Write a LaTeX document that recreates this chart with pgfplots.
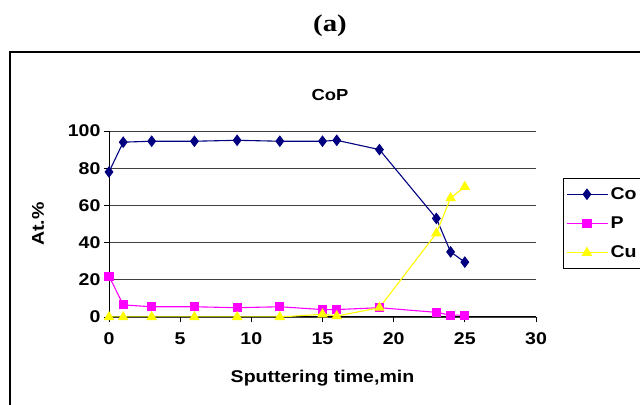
\documentclass[border=0pt]{standalone}
\usepackage{fontspec}
\setmainfont{Liberation Sans}[FakeStretch=1.15]
\newfontfamily\serifb{Liberation Serif}[FakeStretch=1.2]
\usepackage{pgfplots}
\pgfplotsset{compat=1.18}
\definecolor{conavy}{RGB}{0,0,128}
\definecolor{pmag}{RGB}{255,0,255}
\definecolor{cuyel}{RGB}{255,255,0}
\newcommand{\lbl}{\bfseries\fontsize{17bp}{19bp}\selectfont}

\begin{document}
\begin{tikzpicture}
\path[use as bounding box, clip] (0bp,0bp) rectangle (640bp,405bp);
\node[font=\serifb\bfseries\fontsize{24bp}{27bp}\selectfont] at (330bp,379bp) {(a)};
\draw[line width=1.3bp] (10bp,353bp) rectangle (660bp,-20bp);
\node[font=\bfseries\fontsize{16bp}{18bp}\selectfont] at (330bp,310bp) {CoP};
\begin{axis}[
    at={(109bp,88bp)}, anchor=south west,
    scale only axis, width=427bp, height=186bp,
    xmin=0, xmax=30, ymin=0, ymax=100,
    xtick={0,5,...,30}, ytick={0,20,...,100},
    ymajorgrids, grid style={black!75, line width=0.9bp},
    axis x line*=bottom, axis y line*=left,
    axis line style={-, line width=1bp, black},
    tick align=outside, major tick length=5bp,
    tick style={black, line width=0.9bp},
    ticklabel style={font=\lbl},
    xticklabel style={yshift=-7bp},
    /pgf/number format/assume math mode=true,
    xlabel={Sputtering time,min}, ylabel={At.\%},
    label style={font=\lbl},
    xlabel style={at={(axis description cs:0.5,-0.328)}, anchor=center},
    ylabel style={at={(axis description cs:-0.166,0.5)}, anchor=center},
    legend style={at={(rel axis cs:1.063,0.747)}, anchor=north west,
        draw=black, line width=1bp, font=\lbl,
        row sep=12bp, inner ysep=7bp, inner xsep=3bp},
    legend cell align=left,
    legend image code/.code={\draw[mark repeat=2,mark phase=2,#1] plot coordinates {(0bp,0bp) (20bp,0bp) (41bp,0bp)};},
]
\addplot[color=conavy, line width=1.1bp, mark=diamond*, mark size=5bp, mark options={solid}] coordinates {
    (0,78) (1,94) (3,94.5) (6,94.5) (9,95) (12,94.5) (15,94.5) (16,95) (19,90) (23,53) (24,35) (25,29.5)
};
\addlegendentry{Co}
\addplot[color=pmag, line width=1.1bp, mark=square*, mark size=4bp] coordinates {
    (0,22) (1,6.5) (3,5.5) (6,5.5) (9,5) (12,5.5) (15,4) (16,4) (19,5) (23,2.5) (24,1) (25,1)
};
\addlegendentry{P}
\addplot[color=cuyel, line width=1.1bp, mark=triangle*, mark size=5bp] coordinates {
    (0,0) (1,0) (3,0) (6,0) (9,0) (12,0) (15,1.5) (16,0.5) (19,5) (23,45) (24,64) (25,70)
};
\addlegendentry{Cu}
\end{axis}
\end{tikzpicture}
\end{document}
